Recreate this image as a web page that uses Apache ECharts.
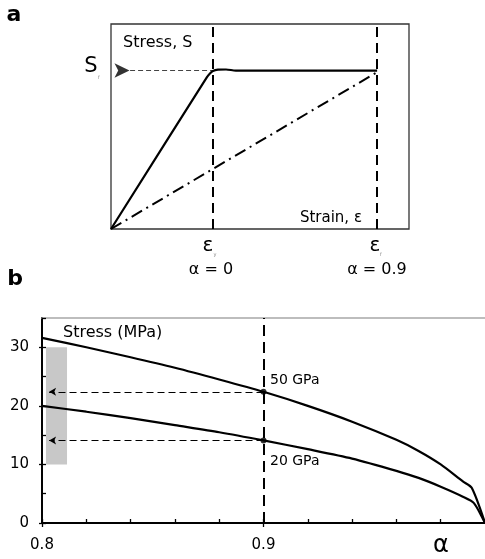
<!DOCTYPE html>
<html><head><meta charset="utf-8">
<script src="https://cdn.jsdelivr.net/npm/echarts@6/dist/echarts.min.js"></script>
<style>html,body{margin:0;padding:0;background:#fff}#c{width:485px;height:559px}</style>
</head><body><div id="c"></div>
<script>
// ---------- Panel a (schematic stress-strain) ----------
const aStrain = [0, 32.2, 33.2, 34.2, 35.9, 38.6, 41.9, 89.3];
const aStress = [0, 74.1, 75.9, 77.1, 77.7, 77.8, 77.3, 77.3];
const aLinStrain = [0, 89.3];
const aLinStress = [0, 76.5];
const aMarks = [34.2, 89.3];          // eps_y, eps_f
const aPlateau = 77.3;                // S_f
const aArrowFrom = 6.4;
const aArrowHead = 6.2;
const aMarkSub = ['y', 'f'];
const aMarkAlpha = ['α = 0', 'α = 0.9'];

// ---------- Panel b ----------
const alpha50 = [0.80, 0.82, 0.84, 0.86, 0.88, 0.90, 0.92, 0.94, 0.96, 0.97, 0.98, 0.99, 0.994, 1.0];
const stress50 = [31.6, 30.0, 28.3, 26.5, 24.5, 22.4, 20.0, 17.3, 14.2, 12.3, 10.0, 7.1, 6.0, 0];
const alpha20 = [0.80, 0.82, 0.84, 0.86, 0.88, 0.90, 0.92, 0.94, 0.96, 0.97, 0.98, 0.99, 0.995, 1.0];
const stress20 = [20.0, 19.0, 17.9, 16.7, 15.5, 14.1, 12.6, 11.0, 8.9, 7.7, 6.2, 4.5, 3.4, 0];
const alphaMark = 0.9;
const markStress = [22.4, 14.1];
const arrowEnd = 0.8032;
const bandAlpha = [0.8018, 0.8113];
const bandStress = [10, 30];
const curveLabels = ['50 GPa', '20 GPa'];

const zip = (xs, ys) => xs.map((x, i) => [x, ys[i]]);
const FONT = '"DejaVu Sans", Verdana, sans-serif';

const chart = echarts.init(document.getElementById('c'), null, {renderer: 'canvas'});

const noAxis = {show: true, axisLine: {show: false}, axisTick: {show: false}, axisLabel: {show: false}, splitLine: {show: false}};

chart.setOption({
  animation: false,
  textStyle: {fontFamily: FONT, color: '#000'},
  grid: [
    {left: 111, top: 24, width: 298, height: 205, show: true, borderColor: '#333', borderWidth: 1.3, backgroundColor: 'transparent'},
    {left: 42, top: 318, right: 0, height: 205}
  ],
  xAxis: [
    Object.assign({gridIndex: 0, type: 'value', min: 0, max: 100}, noAxis),
    {gridIndex: 1, type: 'value', min: 0.8, max: 1.0, interval: 0.02, position: 'bottom',
     axisLine: {show: true, lineStyle: {color: '#000', width: 1.8}},
     axisTick: {show: true, inside: true, length: 4, lineStyle: {color: '#000', width: 1.3}},
     axisLabel: {show: false}, splitLine: {show: false}},
    {gridIndex: 1, type: 'value', min: 0.8, max: 1.0, interval: 0.1, position: 'bottom',
     axisLine: {show: true, lineStyle: {color: '#000', width: 1.8}},
     axisTick: {show: true, inside: false, length: 4, lineStyle: {color: '#000', width: 1.3}},
     axisLabel: {show: true, margin: 15, fontSize: 15, color: '#000', fontFamily: FONT, showMaxLabel: false,
                 formatter: v => v.toFixed(1)},
     splitLine: {show: false}},
    {gridIndex: 1, type: 'value', min: 0.8, max: 1.0, position: 'top',
     axisLine: {show: true, lineStyle: {color: '#a8a8a8', width: 1.6}},
     axisTick: {show: false}, axisLabel: {show: false}, splitLine: {show: false}}
  ],
  yAxis: [
    Object.assign({gridIndex: 0, type: 'value', min: 0, max: 100}, noAxis),
    {gridIndex: 1, type: 'value', min: 0, max: 35, interval: 5, position: 'left',
     axisLine: {show: true, lineStyle: {color: '#000', width: 1.8}},
     axisTick: {show: true, inside: true, length: 4, lineStyle: {color: '#000', width: 1.3}},
     axisLabel: {show: false}, splitLine: {show: false}},
    {gridIndex: 1, type: 'value', min: 0, max: 35, interval: 10, position: 'left',
     axisLine: {show: true, lineStyle: {color: '#000', width: 1.8}},
     axisTick: {show: true, inside: false, length: 3, lineStyle: {color: '#000', width: 1.3}},
     axisLabel: {show: true, margin: 13, fontSize: 15, color: '#000', fontFamily: FONT, showMaxLabel: false},
     splitLine: {show: false}}
  ],
  series: [
    // ---- panel a ----
    {type: 'line', xAxisIndex: 0, yAxisIndex: 0, data: zip(aLinStrain, aLinStress), symbol: 'none',
     lineStyle: {color: '#000', width: 2, type: [12, 5, 2, 5]}, z: 3},
    {type: 'line', xAxisIndex: 0, yAxisIndex: 0, data: zip(aStrain, aStress), symbol: 'none', smooth: 0.3,
     lineStyle: {color: '#000', width: 2.2}, z: 4,
     markLine: {silent: true, symbol: 'none', label: {show: false},
       lineStyle: {color: '#000', width: 2, type: [10, 6]},
       data: aMarks.map(m => ({xAxis: m}))}},
    {type: 'line', xAxisIndex: 0, yAxisIndex: 0, data: [[aArrowFrom, aPlateau], [aMarks[0], aPlateau]], symbol: 'none',
     lineStyle: {color: '#444', width: 1.1, type: [5, 3]}, z: 2},
    {type: 'scatter', xAxisIndex: 0, yAxisIndex: 0, data: [[aArrowHead, aPlateau]], symbol: 'arrow',
     symbolRotate: -90, symbolSize: [11, 15], itemStyle: {color: '#000'}, z: 5},
    // ---- panel b ----
    {type: 'line', xAxisIndex: 1, yAxisIndex: 1, data: [], symbol: 'none', z: 1,
     markArea: {silent: true, itemStyle: {color: '#c8c8c8'},
       data: [[{xAxis: bandAlpha[0], yAxis: bandStress[0]}, {xAxis: bandAlpha[1], yAxis: bandStress[1]}]]}},
    {type: 'line', xAxisIndex: 1, yAxisIndex: 1, data: zip(alpha50, stress50), symbol: 'none', smooth: 0.25,
     lineStyle: {color: '#000', width: 2.2}, z: 4},
    {type: 'line', xAxisIndex: 1, yAxisIndex: 1, data: zip(alpha20, stress20), symbol: 'none', smooth: 0.25,
     lineStyle: {color: '#000', width: 2.2}, z: 4,
     markLine: {silent: true, label: {show: false}, symbol: ['none', 'arrow'], symbolSize: [6, 7],
       lineStyle: {color: '#000', width: 1.2, type: [7, 4]},
       data: markStress.map(s => [{coord: [alphaMark, s]}, {coord: [arrowEnd, s]}])}},
    {type: 'line', xAxisIndex: 1, yAxisIndex: 1, data: [], symbol: 'none', z: 3,
     markLine: {silent: true, symbol: 'none', label: {show: false},
       lineStyle: {color: '#000', width: 2, type: [11, 6]},
       data: [{xAxis: alphaMark}]}},
    {type: 'scatter', xAxisIndex: 1, yAxisIndex: 1, data: markStress.map(s => [alphaMark, s]),
     symbol: 'circle', symbolSize: 6, itemStyle: {color: '#000'}, z: 6}
  ],
  graphic: [
    {type: 'text', style: {text: 'a', x: 14, y: 15, font: 'bold 22px ' + FONT, fill: '#000', textAlign: 'center', textVerticalAlign: 'middle'}},
    {type: 'text', style: {text: 'b', x: 15, y: 279, font: 'bold 22px ' + FONT, fill: '#000', textAlign: 'center', textVerticalAlign: 'middle'}},
    {type: 'text', style: {text: 'S', x: 91, y: 67, font: '21px ' + FONT, fill: '#000', textAlign: 'center', textVerticalAlign: 'middle'}},
    {type: 'text', style: {text: 'f', x: 99, y: 78, font: '5px ' + FONT, fill: '#888', textAlign: 'center', textVerticalAlign: 'middle'}},
    {type: 'text', style: {text: 'Stress, S', x: 123, y: 43, font: '16px ' + FONT, fill: '#000', textAlign: 'left', textVerticalAlign: 'middle'}},
    {type: 'text', style: {text: 'Strain, ε', x: 362, y: 218, font: '15px ' + FONT, fill: '#000', textAlign: 'right', textVerticalAlign: 'middle'}},
    {type: 'text', style: {text: 'ε', x: 208, y: 246, font: '20px ' + FONT, fill: '#000', textAlign: 'center', textVerticalAlign: 'middle'}},
    {type: 'text', style: {text: aMarkSub[0], x: 215, y: 255, font: '5px ' + FONT, fill: '#888', textAlign: 'center', textVerticalAlign: 'middle'}},
    {type: 'text', style: {text: 'ε', x: 375, y: 246, font: '20px ' + FONT, fill: '#000', textAlign: 'center', textVerticalAlign: 'middle'}},
    {type: 'text', style: {text: aMarkSub[1], x: 381, y: 255, font: '5px ' + FONT, fill: '#888', textAlign: 'center', textVerticalAlign: 'middle'}},
    {type: 'text', style: {text: aMarkAlpha[0], x: 211, y: 270, font: '16px ' + FONT, fill: '#000', textAlign: 'center', textVerticalAlign: 'middle'}},
    {type: 'text', style: {text: aMarkAlpha[1], x: 377, y: 270, font: '16px ' + FONT, fill: '#000', textAlign: 'center', textVerticalAlign: 'middle'}},
    {type: 'text', style: {text: 'Stress (MPa)', x: 63, y: 333, font: '16px ' + FONT, fill: '#000', textAlign: 'left', textVerticalAlign: 'middle'}},
    {type: 'text', style: {text: curveLabels[0], x: 270, y: 380, font: '14px ' + FONT, fill: '#000', textAlign: 'left', textVerticalAlign: 'middle'}},
    {type: 'text', style: {text: curveLabels[1], x: 270, y: 461, font: '14px ' + FONT, fill: '#000', textAlign: 'left', textVerticalAlign: 'middle'}},
    {type: 'text', style: {text: 'α', x: 441, y: 546, font: '24px ' + FONT, fill: '#000', textAlign: 'center', textVerticalAlign: 'middle'}}
  ]
});
</script></body></html>
